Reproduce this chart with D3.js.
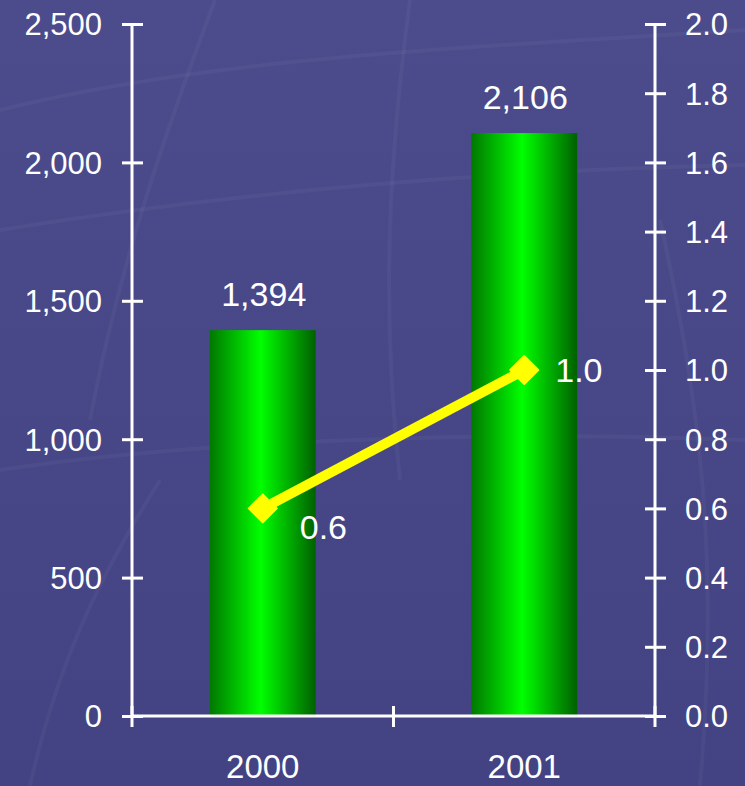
<!DOCTYPE html>
<html>
<head>
<meta charset="utf-8">
<script src="https://cdn.jsdelivr.net/npm/d3@7"></script>
<style>
  html, body { margin: 0; padding: 0; background: #47478a; }
  svg { display: block; }
  text { font-family: "Liberation Sans", Arial, sans-serif; fill: #ffffff; }
</style>
</head>
<body>
<svg id="chart" width="745" height="786"></svg>
<script>
// Data
const categories = ["2000", "2001"];
const barValues = [1394, 2106];
const lineValues = [0.6, 1.0];
const leftTicks = [0, 500, 1000, 1500, 2000, 2500];
const rightTicks = [0, 0.2, 0.4, 0.6, 0.8, 1.0, 1.2, 1.4, 1.6, 1.8, 2.0];

const W = 745, H = 786;
const margin = { left: 132, right: 90, top: 24, bottom: 70 };
const svg = d3.select("#chart");

// Background with subtle template texture
const defs = svg.append("defs");
const bg = defs.append("linearGradient").attr("id", "bg").attr("x1", 0).attr("y1", 0).attr("x2", 0).attr("y2", 1);
bg.append("stop").attr("offset", "0%").attr("stop-color", "#4c4c8c");
bg.append("stop").attr("offset", "100%").attr("stop-color", "#434384");
svg.append("rect").attr("width", W).attr("height", H).attr("fill", "url(#bg)");

const tex = svg.append("g").attr("fill", "none").attr("stroke", "#ffffff").attr("stroke-opacity", 0.035).attr("stroke-width", 4);
tex.append("path").attr("d", "M 0 110 C 200 60, 420 50, 745 30");
tex.append("path").attr("d", "M 0 230 C 250 190, 500 170, 745 165");
tex.append("path").attr("d", "M 215 0 C 170 120, 120 260, 90 420");
tex.append("path").attr("d", "M 410 0 C 390 150, 380 300, 400 480");
tex.append("path").attr("d", "M 0 470 C 200 440, 500 430, 745 440");
tex.append("path").attr("d", "M 30 786 C 60 650, 110 560, 160 480");
tex.append("path").attr("d", "M 660 220 C 700 400, 720 560, 700 786");

// Scales
const x = d3.scaleBand().domain(categories).range([margin.left, W - margin.right]).padding(0);
const yL = d3.scaleLinear().domain([0, 2500]).range([H - margin.bottom, margin.top]);
const yR = d3.scaleLinear().domain([0, 2.0]).range([H - margin.bottom, margin.top]);
const barW = x.bandwidth() * 0.405;

// Bar gradient
const g = defs.append("linearGradient").attr("id", "barGrad").attr("x1", 0).attr("y1", 0).attr("x2", 1).attr("y2", 0);
g.append("stop").attr("offset", "0%").attr("stop-color", "#007800");
g.append("stop").attr("offset", "48%").attr("stop-color", "#00ff00");
g.append("stop").attr("offset", "100%").attr("stop-color", "#006000");

// Bars
svg.append("g").selectAll("rect").data(categories).join("rect")
  .attr("x", (d) => x(d) + x.bandwidth() / 2 - barW / 2)
  .attr("y", (d, i) => yL(barValues[i]))
  .attr("width", barW)
  .attr("height", (d, i) => yL(0) - yL(barValues[i]))
  .attr("fill", "url(#barGrad)");

// Bar value labels
const fmt = d3.format(",");
svg.append("g").selectAll("text").data(categories).join("text")
  .attr("x", (d) => x(d) + x.bandwidth() / 2 + 1)
  .attr("y", (d, i) => yL(barValues[i]) - 24)
  .attr("text-anchor", "middle")
  .attr("font-size", 34)
  .text((d, i) => fmt(barValues[i]));

// Axes
const axisStyle = (sel, size) => {
  sel.attr("font-size", null).attr("font-family", null);
  sel.select(".domain").attr("stroke", "#ffffff").attr("stroke-width", 3);
  sel.selectAll(".tick line").attr("stroke", "#ffffff").attr("stroke-width", 3);
  sel.selectAll(".tick text").attr("fill", "#ffffff").attr("font-size", size)
    .attr("font-family", "Liberation Sans, Arial, sans-serif");
};

const leftAxis = svg.append("g").attr("transform", `translate(${margin.left},0)`)
  .call(d3.axisLeft(yL).tickValues(leftTicks).tickFormat(d3.format(",")).tickSize(0).tickPadding(30));
leftAxis.selectAll(".tick line").attr("x1", -10).attr("x2", 11);
leftAxis.selectAll(".tick text").attr("dy", "0.35em");
axisStyle(leftAxis, 31);
leftAxis.select(".domain").attr("d", `M0,${yL(0)}V${yL(2500)}`);

const rightAxis = svg.append("g").attr("transform", `translate(${W - margin.right},0)`)
  .call(d3.axisRight(yR).tickValues(rightTicks).tickFormat(d3.format(".1f")).tickSize(0).tickPadding(30));
rightAxis.selectAll(".tick line").attr("x1", -10).attr("x2", 11);
rightAxis.selectAll(".tick text").attr("dy", "0.35em");
axisStyle(rightAxis, 31);
rightAxis.select(".domain").attr("d", `M0,${yR(0)}V${yR(2)}`);

const bottomAxis = svg.append("g").attr("transform", `translate(0,${yL(0)})`)
  .call(d3.axisBottom(x).tickSize(0).tickPadding(39));
axisStyle(bottomAxis, 33);
bottomAxis.select(".domain").attr("d", `M${margin.left},0H${W - margin.right}`);
// Category boundary ticks
const bounds = [x.range()[0], x.range()[0] + x.step(), x.range()[1]];
bottomAxis.append("g").selectAll("line").data(bounds).join("line")
  .attr("x1", (d) => d).attr("x2", (d) => d)
  .attr("y1", -10).attr("y2", 11)
  .attr("stroke", "#ffffff").attr("stroke-width", 3);

// Line series on right axis
const pts = categories.map((c, i) => [x(c) + x.bandwidth() / 2, yR(lineValues[i])]);
svg.append("path")
  .attr("d", d3.line()(pts))
  .attr("fill", "none")
  .attr("stroke", "#ffff00")
  .attr("stroke-width", 10);

const r = 14;
svg.append("g").selectAll("path").data(pts).join("path")
  .attr("d", (p) => `M${p[0] - r},${p[1]}L${p[0]},${p[1] - r}L${p[0] + r},${p[1]}L${p[0]},${p[1] + r}Z`)
  .attr("fill", "#ffff00")
  .attr("stroke", "#ffff00")
  .attr("stroke-width", 2)
  .attr("stroke-linejoin", "round");

// Line value labels
svg.append("g").selectAll("text").data(pts).join("text")
  .attr("x", (p, i) => p[0] + (i === 0 ? 37 : 31))
  .attr("y", (p, i) => p[1] + (i === 0 ? 31 : 12))
  .attr("font-size", 34)
  .text((p, i) => d3.format(".1f")(lineValues[i]));
</script>
</body>
</html>
